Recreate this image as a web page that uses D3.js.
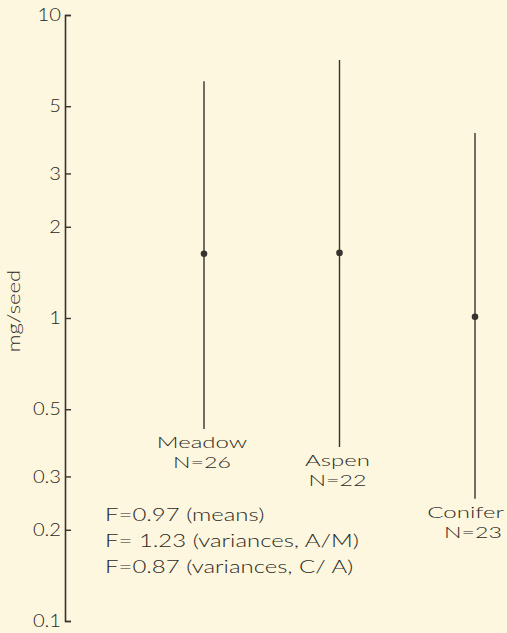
<!DOCTYPE html>
<html>
<head>
<meta charset="utf-8">
<script src="https://cdn.jsdelivr.net/npm/d3@7"></script>
<style>
  html, body { margin: 0; padding: 0; background: #fcf7de; }
  svg { display: block; }
  text { font-family: Lato, "Open Sans", sans-serif; font-weight: 300; fill: #2c2824; }
</style>
</head>
<body>
<div id="chart"></div>
<script>
// seed weight per habitat, log scale
var categories = ["Meadow", "Aspen", "Conifer"];
var sampleSizes = [26, 22, 23];
var means = [1.63, 1.64, 1.01];
var lows = [0.43, 0.375, 0.253];
var highs = [6.05, 7.1, 4.08];

var yTicks = [0.1, 0.2, 0.3, 0.5, 1, 2, 3, 5, 10];
var yTickLabels = ["0.1", "0.2", "0.3", "0.5", "1", "2", "3", "5", "10"];

var statLines = ["F=0.97 (means)", "F= 1.23 (variances, A/M)", "F=0.87 (variances, C/ A)"];

var w = 507, h = 633;
var ink = "#36322d";

var svg = d3.select("#chart")
    .append("svg")
    .attr("width", w)
    .attr("height", h);

var y = d3.scaleLog().domain([0.1, 10]).range([621, 15]);
var x = d3.scalePoint().domain(categories).range([204, 475]);

// widen text a bit, the original lettering is a broad geometric face
function stretch(sel, k) {
  sel.each(function () {
    var len = this.getComputedTextLength();
    d3.select(this)
      .attr("textLength", len * k)
      .attr("lengthAdjust", "spacingAndGlyphs");
  });
}

// y axis, ticks pointing right
var axis = svg.append("g")
    .attr("transform", "translate(65,0)")
    .call(d3.axisLeft(y)
      .tickValues(yTicks)
      .tickFormat(function (d, i) { return yTickLabels[i]; })
      .tickSizeInner(-6)
      .tickSizeOuter(-6)
      .tickPadding(4));

axis.select(".domain").attr("stroke", ink).attr("stroke-width", 1.6);
axis.selectAll(".tick line").attr("stroke", ink).attr("stroke-width", 1.4);
axis.selectAll(".tick text")
    .attr("fill", "#2c2824")
    .style("font-size", "18px")
    .call(stretch, 1.12);

svg.append("text")
    .attr("transform", "translate(20,311) rotate(-90)")
    .style("text-anchor", "middle")
    .style("font-size", "17px")
    .text("mg/seed")
    .call(stretch, 1.3);

// ranges and means
var rows = categories.map(function (c, i) {
  return { cat: c, n: sampleSizes[i], mean: means[i], lo: lows[i], hi: highs[i] };
});

svg.selectAll(".range")
    .data(rows)
    .enter().append("line")
    .attr("class", "range")
    .attr("x1", function (d) { return x(d.cat); })
    .attr("x2", function (d) { return x(d.cat); })
    .attr("y1", function (d) { return y(d.lo); })
    .attr("y2", function (d) { return y(d.hi); })
    .attr("stroke", ink)
    .attr("stroke-width", 1.4);

svg.selectAll(".mean")
    .data(rows)
    .enter().append("circle")
    .attr("class", "mean")
    .attr("cx", function (d) { return x(d.cat); })
    .attr("cy", function (d) { return y(d.mean); })
    .attr("r", 3.3)
    .attr("fill", ink);

// labels under each range, kept inside the right edge
function placeLabel(sel) {
  sel.each(function (d) {
    var len = +this.getAttribute("textLength");
    var cx = Math.min(x(d.cat) - 2, w - 3 - len / 2);
    d3.select(this).attr("x", cx);
  });
}

svg.selectAll(".catName")
    .data(rows)
    .enter().append("text")
    .attr("class", "catName")
    .attr("y", function (d) { return y(d.lo) + 19; })
    .style("text-anchor", "middle")
    .style("font-size", "16px")
    .text(function (d) { return d.cat; })
    .call(stretch, 1.5)
    .call(placeLabel);

svg.selectAll(".catN")
    .data(rows)
    .enter().append("text")
    .attr("class", "catN")
    .attr("y", function (d) { return y(d.lo) + 39; })
    .style("text-anchor", "middle")
    .style("font-size", "16px")
    .text(function (d) { return "N=" + d.n; })
    .call(stretch, 1.45)
    .call(placeLabel);

// F statistics
svg.selectAll(".stat")
    .data(statLines)
    .enter().append("text")
    .attr("class", "stat")
    .attr("x", 105)
    .attr("y", function (d, i) { return 521 + i * 26; })
    .style("font-size", "18px")
    .text(function (d) { return d; })
    .call(stretch, 1.33);
</script>
</body>
</html>
